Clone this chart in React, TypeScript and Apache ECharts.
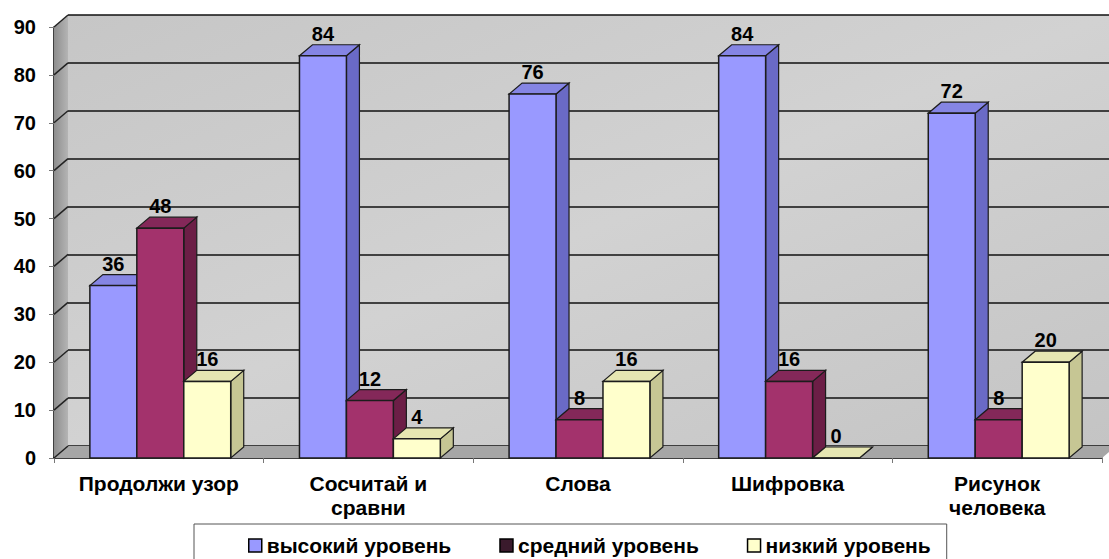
import React, { useEffect, useRef } from "react";
import * as echarts from "echarts";

const categories = ["Продолжи узор", "Сосчитай и\nсравни", "Слова", "Шифровка", "Рисунок\nчеловека"];
const seriesNames = ["высокий уровень", "средний уровень", "низкий уровень"];
const highLevel = [36, 84, 76, 84, 72];
const midLevel = [48, 12, 8, 16, 8];
const lowLevel = [16, 4, 16, 0, 20];
const yTicks = [0, 10, 20, 30, 40, 50, 60, 70, 80, 90];

const DX = 14;
const DY = -12;
const BDX = 13;
const BDY = -11;
const FONT = '"Liberation Sans", Arial, sans-serif';

const palettes = [
  { front: "#9999ff", side: "#6a6ac6", top: "#8585e4", legend: "#9999ff" },
  { front: "#a3326c", side: "#6c1e46", top: "#842859", legend: "#3a1a2c" },
  { front: "#ffffcc", side: "#c6c694", top: "#e6e6b2", legend: "#ffffcc" },
];

const makeBarRender = (si: number) => (params: any, api: any) => {
  const cat = api.value(0);
  const val = api.value(1);
  const top = api.coord([cat, val]);
  const base = api.coord([cat, 0]);
  const bw = api.size([1, 0])[0];
  const w = bw * 0.224;
  const x0 = top[0] + (si - 1.5) * w + 1.5;
  const x1 = x0 + w;
  const yt = top[1];
  const yb = base[1];
  const p = palettes[si];
  const stroke = "#1c1c1c";
  return {
    type: "group",
    children: [
      {
        type: "polygon",
        shape: { points: [[x1, yb], [x1, yt], [x1 + BDX, yt + BDY], [x1 + BDX, yb + BDY]] },
        style: { fill: p.side, stroke, lineWidth: 1.2 },
      },
      {
        type: "polygon",
        shape: { points: [[x0, yt], [x1, yt], [x1 + BDX, yt + BDY], [x0 + BDX, yt + BDY]] },
        style: { fill: p.top, stroke, lineWidth: 1.2 },
      },
      {
        type: "rect",
        shape: { x: x0, y: yt, width: w, height: yb - yt },
        style: { fill: p.front, stroke, lineWidth: 1.5 },
      },
      {
        type: "text",
        x: x0 + w / 2,
        y: yt - 22,
        style: {
          text: String(val),
          fill: "#000",
          font: `bold 20px ${FONT}`,
          align: "center",
          verticalAlign: "middle",
        },
      },
    ],
  };
};

const renderWalls = (params: any, api: any) => {
  const bw = api.size([1, 0])[0];
  const left = api.coord([0, 0])[0] - bw / 2;
  const right = api.coord([categories.length - 1, 0])[0] + bw / 2;
  const y0 = api.coord([0, 0])[1];
  const yTop = api.coord([0, yTicks[yTicks.length - 1]])[1];
  const children: any[] = [
    {
      type: "polygon",
      shape: { points: [[left, y0], [left, yTop], [left + DX, yTop + DY], [left + DX, y0 + DY]] },
      style: {
        fill: new echarts.graphic.LinearGradient(0, 0, 1, 0, [
          { offset: 0, color: "#8e8e8e" },
          { offset: 1, color: "#b4b4b4" },
        ]),
      },
    },
    {
      type: "polygon",
      shape: { points: [[left, y0], [right, y0], [right + DX, y0 + DY], [left + DX, y0 + DY]] },
      style: { fill: "#a6a6a6" },
    },
  ];
  yTicks.forEach((t) => {
    const y = api.coord([0, t])[1];
    children.push({
      type: "line",
      shape: { x1: left, y1: y, x2: left + DX, y2: y + DY },
      style: { stroke: "#222", lineWidth: 1.5 },
    });
  });
  return { type: "group", children };
};

export default function App() {
  const ref = useRef<HTMLDivElement>(null);
  useEffect(() => {
    if (!ref.current) return;
    const chart = echarts.init(ref.current, undefined, { renderer: "svg" });
    const values = [highLevel, midLevel, lowLevel];
    chart.setOption({
      animation: false,
      backgroundColor: "#ffffff",
      grid: [
        { left: 54, top: 27, width: 1048, height: 431 },
        {
          left: 68,
          top: 15,
          width: 1048,
          height: 431,
          show: true,
          backgroundColor: new echarts.graphic.LinearGradient(0, 0, 1, 1, [
            { offset: 0, color: "#c6c6c6" },
            { offset: 0.5, color: "#d2d2d2" },
            { offset: 1, color: "#c4c4c4" },
          ]),
          borderWidth: 0,
        },
      ],
      xAxis: [
        {
          type: "category",
          gridIndex: 0,
          data: categories,
          axisLine: { lineStyle: { color: "#000", width: 1.5 } },
          axisTick: { show: true, length: 5, lineStyle: { color: "#777" } },
          axisLabel: {
            interval: 0,
            margin: 13,
            color: "#000",
            fontWeight: "bold",
            fontSize: 21,
            fontFamily: FONT,
            lineHeight: 24,
          },
        },
        { type: "category", gridIndex: 1, data: categories, show: false },
      ],
      yAxis: [
        {
          type: "value",
          gridIndex: 0,
          min: 0,
          max: 90,
          interval: 10,
          axisLine: { show: true, lineStyle: { color: "#000", width: 1.5 } },
          axisTick: { show: true, length: 5, lineStyle: { color: "#777" } },
          splitLine: { show: false },
          axisLabel: {
            margin: 18,
            color: "#000",
            fontWeight: "bold",
            fontSize: 20,
            fontFamily: FONT,
          },
        },
        {
          type: "value",
          gridIndex: 1,
          min: 0,
          max: 90,
          interval: 10,
          axisLine: { show: false },
          axisTick: { show: false },
          axisLabel: { show: false },
          splitLine: { show: true, lineStyle: { color: "#111", width: 1.5 } },
        },
      ],
      legend: {
        left: 194,
        top: 524,
        padding: [11, 16, 20, 54],
        itemGap: 48,
        itemWidth: 13,
        itemHeight: 13,
        borderColor: "#555",
        borderWidth: 1,
        backgroundColor: "#fff",
        textStyle: { color: "#000", fontWeight: "bold", fontSize: 21, fontFamily: FONT },
        data: seriesNames.map((n, i) => ({
          name: n,
          icon: "rect",
          itemStyle: { color: palettes[i].legend, borderColor: "#000", borderWidth: 1.5 },
        })),
      },
      series: [
        {
          type: "custom",
          name: "walls",
          xAxisIndex: 0,
          yAxisIndex: 0,
          z: 1,
          silent: true,
          clip: false,
          data: [[0, 0]],
          renderItem: renderWalls,
        },
        ...seriesNames.map((name, si) => ({
          type: "custom",
          name,
          xAxisIndex: 0,
          yAxisIndex: 0,
          z: 2,
          clip: false,
          itemStyle: { color: palettes[si].front },
          encode: { x: 0, y: 1 },
          data: values[si].map((v, i) => [i, v]),
          renderItem: makeBarRender(si),
        })),
      ],
    });
    return () => chart.dispose();
  }, []);
  return (
    <div
      ref={ref}
      style={{ position: "absolute", left: 0, top: 0, width: "1109px", height: "559px" }}
    />
  );
}
